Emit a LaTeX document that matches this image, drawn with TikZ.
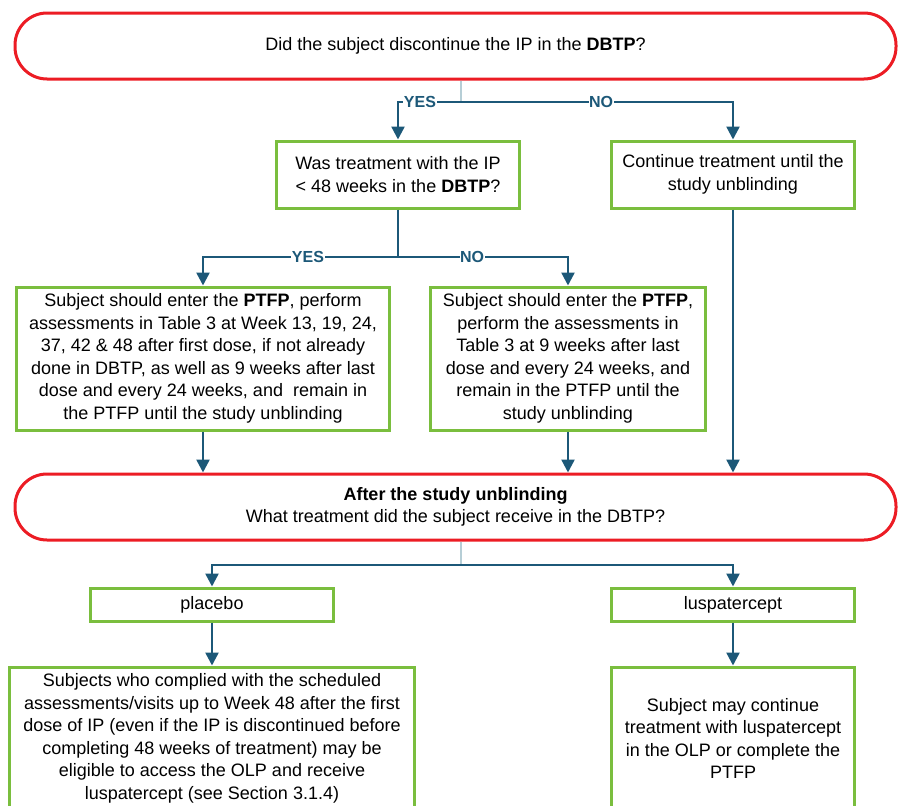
\documentclass[tikz,border=0pt]{standalone}
\usepackage{fontspec}
\setmainfont{Liberation Sans}
\usetikzlibrary{arrows.meta}
\definecolor{qred}{RGB}{236,28,36}
\definecolor{bgreen}{RGB}{122,190,62}
\definecolor{lteal}{RGB}{28,88,120}
\definecolor{lstem}{RGB}{182,206,214}
\begin{document}
\begin{tikzpicture}[x=1pt,y=-1pt,
  txt/.style={font=\fontsize{18}{22.5}\selectfont, align=center, inner sep=0pt},
  qbox/.style={txt, draw=qred, line width=3pt, rounded corners=32pt, minimum height=66pt},
  gbox/.style={txt, draw=bgreen, line width=3pt, minimum width=243pt},
  conn/.style={draw=lteal, line width=2.4pt},
  arr/.style={conn, -{Triangle[width=13pt,length=13pt]}},
  stem/.style={draw=lstem, line width=2.4pt},
  yn/.style={font=\fontsize{16}{16}\selectfont\bfseries, text=lteal, fill=white, inner xsep=0.5pt, inner ysep=2pt}]
\useasboundingbox (0,0) rectangle (898,806);
\clip (0,0) rectangle (898,806);
\node[qbox, minimum width=881pt] (q1) at (455.5,46) {Did the subject discontinue the IP in the \textbf{DBTP}?};
\node[gbox, minimum height=67pt] (q2) at (398,174.5) {Was treatment with the IP\\< 48 weeks in the \textbf{DBTP}?};
\node[gbox, minimum height=67pt] (c1) at (733,174.5) {Continue treatment until the\\study unblinding};
\node[gbox, minimum width=373pt, minimum height=143pt] (s1) at (203,358.5) {Subject should enter the \textbf{PTFP}, perform\\assessments in Table 3 at Week 13, 19, 24,\\37, 42 \& 48 after first dose, if not already\\done in DBTP, as well as 9 weeks after last\\dose and every 24 weeks, and\ \ remain in\\the PTFP until the study unblinding};
\node[gbox, minimum width=275pt, minimum height=143pt] (s2) at (568,358.5) {Subject should enter the \textbf{PTFP},\\perform the assessments in\\Table 3 at 9 weeks after last\\dose and every 24 weeks, and\\remain in the PTFP until the\\study unblinding};
\node[qbox, minimum width=881pt] (q3) at (455.5,507) {\textbf{After the study unblinding}\\What treatment did the subject receive in the DBTP?};
\node[gbox, minimum height=33pt] (p1) at (212,604.5) {placebo};
\node[gbox, minimum height=33pt] (l1) at (733,604.5) {luspatercept};
\node[gbox, minimum width=405pt, minimum height=143pt] (p2) at (212,738.5) {Subjects who complied with the scheduled\\assessments/visits up to Week 48 after the first\\dose of IP (even if the IP is discontinued before\\completing 48 weeks of treatment) may be\\eligible to access the OLP and receive\\luspatercept (see Section 3.1.4)};
\node[gbox, minimum height=143pt] (l2) at (733,738.5) {Subject may continue\\treatment with luspatercept\\in the OLP or complete the\\PTFP};
\coordinate (j1) at (461,102);
\coordinate (j2) at (398,257);
\coordinate (j3) at (461,565);
\draw[stem] (q1.south -| j1) -- (j1);
\draw[arr] (j1) -| (q2.north);
\draw[arr] (j1) -| (c1.north);
\node[yn] (y1) at (420,102) {YES};
\node[yn] (n1) at (601,102) {NO};
\draw[conn] (q2.south) -- (j2);
\draw[arr] (j2) -| (s1.north);
\draw[arr] (j2) -| (s2.north);
\node[yn] (y2) at (308,257) {YES};
\node[yn] (n2) at (472,257) {NO};
\draw[arr] (s1.south) -- (s1.south |- q3.north);
\draw[arr] (s2.south) -- (s2.south |- q3.north);
\draw[arr] (c1.south) -- (c1.south |- q3.north);
\draw[stem] (q3.south -| j3) -- (j3);
\draw[arr] (j3) -| (p1.north);
\draw[arr] (j3) -| (l1.north);
\draw[arr] (p1.south) -- (p2.north);
\draw[arr] (l1.south) -- (l2.north);
\end{tikzpicture}
\end{document}
